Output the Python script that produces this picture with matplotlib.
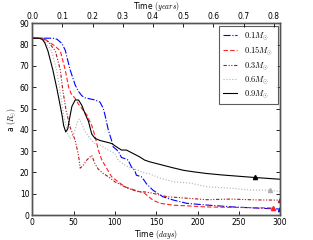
import matplotlib
matplotlib.use("Agg")
import matplotlib.pyplot as plt

plt.rcParams['mathtext.fontset'] = 'cm'
plt.rcParams['font.family'] = ['DejaVu Sans']

labels = [r'$0.1M_{\odot}$', r'$0.15M_{\odot}$', r'$0.3M_{\odot}$', r'$0.6M_{\odot}$', r'$0.9M_{\odot}$']

days_01 = [0, 25, 30, 36, 40, 44, 46, 52, 56, 60, 64, 70, 76, 82, 86, 88, 92, 96, 98, 104, 108, 112, 116, 120, 124, 126, 132, 136, 138, 146, 158, 171, 187, 211, 243, 270, 300]
a_01 = [83, 83, 82.5, 80.5, 77.3, 71, 68, 61, 58, 56, 55, 54.5, 54, 53, 50, 47, 40, 35, 32, 30, 27, 26.5, 25.8, 22.6, 21, 18.7, 18, 16, 14.8, 11.7, 8.6, 7, 5.5, 4.7, 3.8, 3.3, 2.8]

days_015 = [0, 14, 21, 27, 34, 40, 44, 47, 52, 56, 60, 66, 72, 76, 80, 84, 90, 96, 104, 112, 124, 136, 146, 155, 171, 183, 211, 240, 264, 291]
a_015 = [83, 83, 81, 79.5, 77, 68, 60, 57, 54.7, 52, 50, 47, 42, 37, 30.5, 26, 22, 18, 15.6, 13.3, 11.7, 10.2, 7, 5.5, 4.6, 4.4, 3.8, 3.6, 3.5, 3.3]

days_03 = [0, 12, 20, 28, 34, 37, 41, 46, 52, 56, 58, 62, 66, 72, 76, 80, 86, 92, 100, 108, 116, 128, 138, 146, 163, 191, 211, 240, 270, 300]
a_03 = [83, 83, 81, 77, 68, 58.6, 49, 41, 35, 28, 22, 23.5, 25.8, 28, 24, 21.5, 19.5, 18, 15.6, 14, 12.5, 11, 10.8, 10.2, 8.6, 7.8, 7.2, 7.5, 7.1, 7]

days_06 = [0, 10, 16, 23.5, 29.5, 33.5, 38, 43, 46, 50, 55, 57, 61, 64, 72, 76, 82, 88, 92, 100, 104, 110, 116, 128, 136, 142, 155, 171, 191, 211, 243, 264, 288, 300]
a_06 = [83, 83, 81, 77, 68, 58.6, 47, 38, 36, 38, 44, 45, 42, 39, 35, 33.6, 32.8, 31.5, 30.5, 29, 25.8, 24, 22.6, 21, 19.7, 19.3, 17.3, 15.6, 15, 13.3, 12.5, 11.7, 11.7, 11]

days_09 = [0, 8, 12, 15, 19, 25, 30, 33, 36, 38, 40.5, 43, 45, 48, 52, 56, 60, 64, 68, 72, 76, 82, 88, 96, 102, 108, 114, 118, 124, 130, 136, 142, 150, 158, 170, 183, 195, 211, 230, 250, 270, 285, 300]
a_09 = [83, 83, 82.5, 81, 77, 68, 59, 53, 47, 42, 39, 40.5, 45, 51, 54, 54, 51.5, 47.5, 44, 38, 36, 35, 34.4, 33.6, 32, 30.5, 30.5, 29.7, 28.5, 27.3, 25.8, 25, 24.2, 23.4, 22.2, 21, 20.3, 19.5, 18.8, 18.2, 17.6, 17.2, 16.8]

end_days = [300, 291, 300, 288, 270]
end_vals = [2.8, 3.3, 7, 11.7, 17.7]

colors = ['#0000ff', '#ff2020', '#b01818', '#b0b0b0', '#000000']
styles = ['-.', (0, (4, 2)), (0, (3, 1.5, 1, 1.5, 1, 1.5)), ':', '-']

fig = plt.figure(figsize=(3.13, 2.40), dpi=100)
ax = fig.add_axes([0.103, 0.104, 0.792, 0.799])

series = [(days_01, a_01), (days_015, a_015), (days_03, a_03), (days_06, a_06), (days_09, a_09)]
for (d, a), c, ls, lab in zip(series, colors, styles, labels):
    ax.plot(d, a, color=c, linestyle=ls, lw=0.8, label=lab)
for x, y, c in zip(end_days, end_vals, colors):
    ax.plot([x], [y], marker='^', color=c, ms=3, ls='none')

ax.set_xlim(0, 300)
ax.set_ylim(0, 90)
ax.set_xticks(range(0, 301, 50))
ax.set_yticks(range(0, 91, 10))
ax.tick_params(direction='in', labelsize=5.5, length=3, width=0.6, top=False, right=True, pad=2)
for s in ax.spines.values():
    s.set_linewidth(1.0)
    s.set_color('#555555')
ax.set_xlabel(r'Time $(days)$', fontsize=5.5, labelpad=1)
ax.set_ylabel(r'a $(R_{\odot})$', fontsize=5.5, labelpad=1)

ax2 = ax.twiny()
ax2.set_xlim(0, 300 / 365.25)
ax2.set_xticks([0.0, 0.1, 0.2, 0.3, 0.4, 0.5, 0.6, 0.7, 0.8])
ax2.set_xticklabels(['0.0', '0.1', '0.2', '0.3', '0.4', '0.5', '0.6', '0.7', '0.8'])
ax2.tick_params(direction='in', labelsize=5.5, length=3, width=0.6, pad=2)
ax2.set_xlabel(r'Time $(years)$', fontsize=5.5, labelpad=2)
for s in ax2.spines.values():
    s.set_linewidth(1.0)
    s.set_color('#555555')

leg = ax.legend(loc='upper right', fontsize=6, frameon=True, fancybox=False,
                handlelength=1.6, handletextpad=0.9, borderpad=0.5, labelspacing=0.3,
                borderaxespad=0.3)
leg.get_frame().set_edgecolor('#333333')
leg.get_frame().set_linewidth(0.8)

fig.savefig('out.png', dpi=100)
